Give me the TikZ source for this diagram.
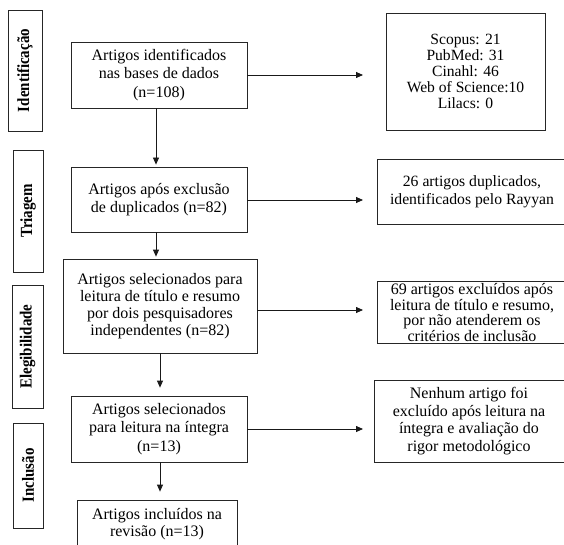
\documentclass[tikz,border=0pt]{standalone}
\usepackage{fontspec}
\setmainfont{Liberation Serif}
\usetikzlibrary{arrows.meta}
\newcommand{\labtext}[1]{\scalebox{0.88}[1.0]{#1}}
\newcommand{\fs}[1]{\fontsize{16}{#1}\selectfont}
\begin{document}
\begin{tikzpicture}[x=1pt,y=-1pt,
  box/.style={draw=black!85, line width=0.8pt, inner sep=0pt, align=center, font=\fs{18}},
  lab/.style={draw=black!85, line width=0.8pt, inner sep=0pt, rotate=90, font=\fontsize{17}{19}\selectfont\bfseries},
  arr/.style={line width=0.8pt, draw=black!90, -{Triangle[length=7pt,width=6pt]}}]
\useasboundingbox (0,0) rectangle (564,545);
\clip (0,0) rectangle (564,545);
\fill[white] (0,0) rectangle (564,545);
% stage labels
\node[lab, minimum width=121, minimum height=34] (L1) at (25,70.5) {\labtext{Identificação}};
\node[lab, minimum width=122, minimum height=30] (L2) at (28,211) {\labtext{Triagem}};
\node[lab, minimum width=123, minimum height=31] (L3) at (27.5,346.5) {\labtext{Elegibilidade}};
\node[lab, minimum width=105, minimum height=30] (L4) at (28,475.5) {\labtext{Inclusão}};
% main column
\node[box, minimum width=176, minimum height=66, font=\fs{18.3}] (B1) at (159,75) {Artigos identificados\\nas bases de dados\\(n=108)};
\node[box, minimum width=176, minimum height=65, font=\fs{17.3}] (B2) at (159,199.5) {Artigos após exclusão\\de duplicados (n=82)};
\node[box, minimum width=194, minimum height=94, font=\fs{17.2}] (B3) at (160,306) {Artigos selecionados para\\leitura de título e resumo\\por dois pesquisadores\\independentes (n=82)};
\node[box, minimum width=176, minimum height=66, font=\fs{18.3}] (B4) at (159,429) {Artigos selecionados\\para leitura na íntegra\\(n=13)};
\node[box, minimum width=160, minimum height=48, font=\fs{16.7}] (B5) at (157,524) {Artigos incluídos na\\revisão (n=13)};
% right column
\node[box, minimum width=159, minimum height=117, font=\fontsize{15.6}{15.8}\selectfont] (R1) at (465.5,71.5) {Scopus: 21\\PubMed: 31\\Cinahl: 46\\Web of Science:10\\Lilacs: 0};
\node[box, minimum width=190, minimum height=65, font=\fontsize{15.7}{18.3}\selectfont] (R2) at (472,191.5) {26 artigos duplicados,\\identificados pelo Rayyan};
\node[box, minimum width=190, minimum height=62, font=\fs{15.8}] (R3) at (472,312.5) {69 artigos excluídos após\\leitura de título e resumo,\\por não atenderem os\\critérios de inclusão};
\node[box, minimum width=190, minimum height=82, font=\fs{17.6}] (R4) at (469,421) {Nenhum artigo foi\\excluído após leitura na\\íntegra e avaliação do\\rigor metodológico};
% arrow ends
\coordinate (e1) at (363,75);
\coordinate (e2) at (363,200);
\coordinate (e3) at (363,310);
\coordinate (e4) at (363,429);
\draw[arr] (B1.east |- e1) -- (e1);
\draw[arr] (B2.east |- e2) -- (e2);
\draw[arr] (B3.east |- e3) -- (e3);
\draw[arr] (B4.east |- e4) -- (e4);
% down arrows
\draw[arr, shorten >=2pt] ([xshift=-3pt]B1.south) -- ([xshift=-3pt]B2.north);
\draw[arr, shorten >=2pt] ([xshift=-3pt]B2.south) -- ([xshift=-4pt]B3.north);
\draw[arr, shorten >=8pt] (B3.south) -- (B3.south |- B4.north);
\draw[arr, shorten >=8pt] ([xshift=1pt]B4.south) -- ([xshift=1pt]B4.south |- B5.north);
\end{tikzpicture}
\end{document}
